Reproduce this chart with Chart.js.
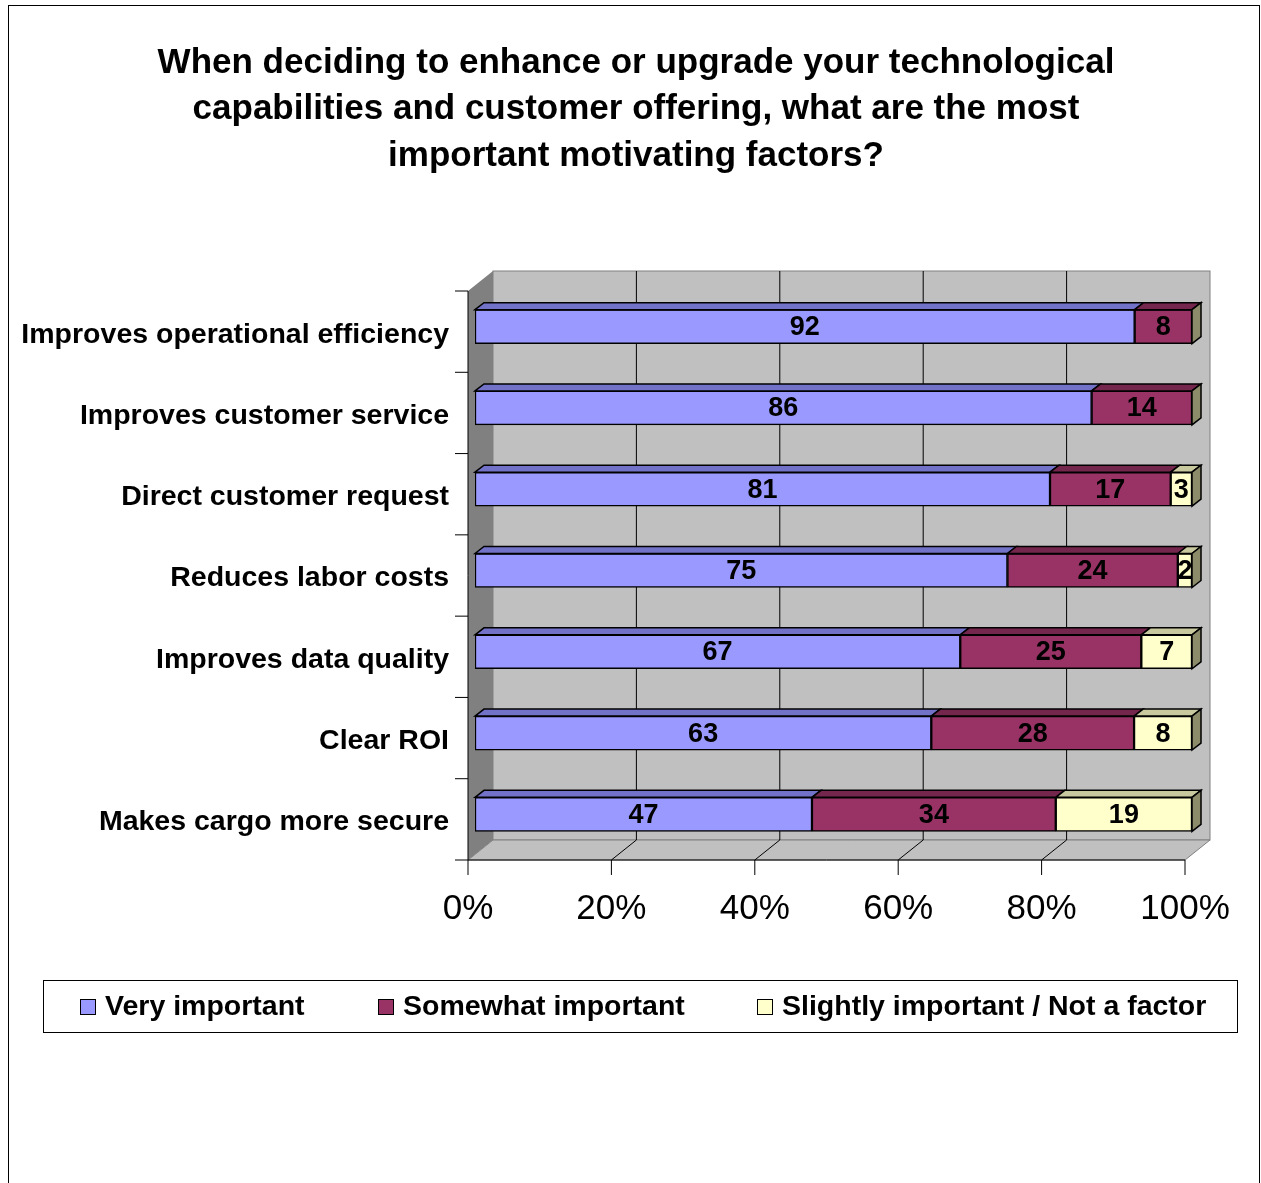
<!DOCTYPE html>
<html lang="en">
<head>
    <meta charset="UTF-8">
    <title>Motivating factors</title>
    <script src="https://cdn.jsdelivr.net/npm/chart.js"></script>
    <style>
        body {
            margin: 0;
            background: white;
            overflow: hidden;
        }
        .chart-box {
            position: relative;
            width: 1261px;
            height: 1183px;
        }
    </style>
</head>
<body>

<div class="chart-box">
    <canvas id="factorsChart"></canvas>
</div>

<script>
    // Values (percent of respondents)
    const categories = [
        'Improves operational efficiency',
        'Improves customer service',
        'Direct customer request',
        'Reduces labor costs',
        'Improves data quality',
        'Clear ROI',
        'Makes cargo more secure'
    ];
    const seriesNames = ['Very important', 'Somewhat important', 'Slightly important / Not a factor'];
    const veryImportant = [92, 86, 81, 75, 67, 63, 47];
    const somewhatImportant = [8, 14, 17, 24, 25, 28, 34];
    const slightlyImportant = [0, 0, 3, 2, 7, 8, 19];
    const xTicks = [0, 20, 40, 60, 80, 100];

    const titleLines = [
        'When deciding to enhance or upgrade your technological',
        'capabilities and customer offering, what are the most',
        'important motivating factors?'
    ];

    const FONT = "'Liberation Sans', Arial, sans-serif";
    const frontColors = ['#9999FF', '#993366', '#FFFFCC'];
    const topColors = ['#7272C8', '#74264D', '#C9C99F'];
    const sideColor = '#8C8C6A';

    // 3D geometry (pixels)
    const wallDepth = { dx: 25, dy: -20 };
    const barShift = { dx: -7, dy: 5 };   // front plane relative to bar fronts
    const barDepth = { dx: 9, dy: -7 };

    // 100% stacked: each row is scaled to its own total
    const rawSeries = [veryImportant, somewhatImportant, slightlyImportant];
    const rowTotals = categories.map((_, i) => rawSeries.reduce((s, arr) => s + arr[i], 0));
    const toPercent = arr => arr.map((v, i) => v / rowTotals[i] * 100);

    const datasets = rawSeries.map((arr, k) => ({
        label: seriesNames[k],
        data: toPercent(arr),
        backgroundColor: frontColors[k],
        borderColor: '#000000',
        borderWidth: 1.5,
        borderSkipped: false,
        barThickness: 34
    }));

    function line(ctx, pts) {
        ctx.beginPath();
        ctx.moveTo(pts[0][0], pts[0][1]);
        for (let i = 1; i < pts.length; i++) ctx.lineTo(pts[i][0], pts[i][1]);
    }

    const threeD = {
        id: 'threeD',
        beforeDraw(chart) {
            const ctx = chart.ctx;
            ctx.save();
            ctx.fillStyle = '#FFFFFF';
            ctx.fillRect(0, 0, chart.width, chart.height);
            ctx.strokeStyle = '#000000';
            ctx.lineWidth = 1;
            ctx.strokeRect(8.5, 5.5, 1251, 1300);
            ctx.restore();
        },
        beforeDatasetsDraw(chart) {
            const ctx = chart.ctx, xs = chart.scales.x, a = chart.chartArea;
            const L = xs.getPixelForValue(0) + barShift.dx;
            const R = xs.getPixelForValue(100) + barShift.dx;
            const T = a.top + barShift.dy, B = a.bottom + barShift.dy;
            const dx = wallDepth.dx, dy = wallDepth.dy;
            ctx.save();
            ctx.lineWidth = 1;

            // back wall
            ctx.fillStyle = '#C0C0C0';
            ctx.fillRect(L + dx, T + dy, R - L, B - T);
            ctx.strokeStyle = '#808080';
            ctx.strokeRect(L + dx, T + dy, R - L, B - T);

            // left wall
            line(ctx, [[L, T], [L + dx, T + dy], [L + dx, B + dy], [L, B]]);
            ctx.closePath();
            ctx.fillStyle = '#808080';
            ctx.fill();

            // floor
            line(ctx, [[L, B], [R, B], [R + dx, B + dy], [L + dx, B + dy]]);
            ctx.closePath();
            ctx.fillStyle = '#C0C0C0';
            ctx.fill();
            ctx.strokeStyle = '#808080';
            ctx.stroke();

            // gridlines on floor and back wall
            ctx.strokeStyle = '#000000';
            xTicks.slice(1, -1).forEach(v => {
                const px = xs.getPixelForValue(v) + barShift.dx;
                line(ctx, [[px, B], [px + dx, B + dy], [px + dx, T + dy]]);
                ctx.stroke();
            });

            // axis lines and tick marks
            line(ctx, [[L, T], [L, B], [R, B]]);
            ctx.stroke();
            xTicks.forEach(v => {
                const px = xs.getPixelForValue(v) + barShift.dx;
                line(ctx, [[px, B], [px, B + 15]]);
                ctx.stroke();
            });
            for (let i = 0; i <= categories.length; i++) {
                const py = T + i * (B - T) / categories.length;
                line(ctx, [[L - 13, py], [L, py]]);
                ctx.stroke();
            }
            ctx.restore();
        },
        afterDatasetsDraw(chart) {
            const ctx = chart.ctx;
            const ddx = barDepth.dx, ddy = barDepth.dy;
            ctx.save();
            ctx.lineWidth = 1.5;
            ctx.strokeStyle = '#000000';
            chart.data.datasets.forEach((ds, k) => {
                chart.getDatasetMeta(k).data.forEach((el, i) => {
                    const p = el.getProps(['x', 'y', 'base', 'height'], true);
                    const top = p.y - p.height / 2, bottom = p.y + p.height / 2;
                    if (p.x - p.base > 0.1) {
                        line(ctx, [[p.base, top], [p.base + ddx, top + ddy], [p.x + ddx, top + ddy], [p.x, top]]);
                        ctx.closePath();
                        ctx.fillStyle = topColors[k];
                        ctx.fill();
                        ctx.stroke();
                    }
                    if (k === chart.data.datasets.length - 1) {
                        line(ctx, [[p.x, top], [p.x + ddx, top + ddy], [p.x + ddx, bottom + ddy], [p.x, bottom]]);
                        ctx.closePath();
                        ctx.fillStyle = sideColor;
                        ctx.fill();
                        ctx.stroke();
                    }
                });
            });

            // value labels
            ctx.fillStyle = '#000000';
            ctx.font = 'bold 27px ' + FONT;
            ctx.textAlign = 'center';
            ctx.textBaseline = 'middle';
            chart.data.datasets.forEach((ds, k) => {
                chart.getDatasetMeta(k).data.forEach((el, i) => {
                    const v = rawSeries[k][i];
                    if (!v) return;
                    const p = el.getProps(['x', 'y', 'base'], true);
                    ctx.fillText(String(v), (p.x + p.base) / 2, p.y + 1);
                });
            });
            ctx.restore();
        },
        afterDraw(chart) {
            const ctx = chart.ctx;
            ctx.save();
            // title
            ctx.fillStyle = '#000000';
            ctx.font = 'bold 35px ' + FONT;
            ctx.textAlign = 'center';
            ctx.textBaseline = 'middle';
            titleLines.forEach((t, i) => ctx.fillText(t, 636, 63 + i * 46.5));

            // legend
            ctx.lineWidth = 1;
            ctx.strokeStyle = '#000000';
            ctx.strokeRect(43.5, 980.5, 1194, 52);
            const markerX = [80, 378, 757];
            ctx.font = 'bold 28.5px ' + FONT;
            ctx.textAlign = 'left';
            seriesNames.forEach((name, k) => {
                ctx.fillStyle = frontColors[k];
                ctx.fillRect(markerX[k] + 0.5, 999.5, 15, 15);
                ctx.strokeRect(markerX[k] + 0.5, 999.5, 15, 15);
                ctx.fillStyle = '#000000';
                ctx.fillText(name, markerX[k] + 25, 1007);
            });
            ctx.restore();
        }
    };

    new Chart(document.getElementById('factorsChart'), {
        type: 'bar',
        data: { labels: categories, datasets: datasets },
        options: {
            indexAxis: 'y',
            responsive: true,
            maintainAspectRatio: false,
            animation: false,
            layout: { padding: { top: 286, left: 0, right: 69, bottom: 228 } },
            plugins: {
                legend: { display: false },
                title: { display: false },
                tooltip: { enabled: false }
            },
            scales: {
                x: {
                    stacked: true,
                    min: 0,
                    max: 100,
                    afterBuildTicks: s => { s.ticks = xTicks.map(v => ({ value: v })); },
                    afterFit: s => { s.height = 100; s.paddingLeft = 0; s.paddingRight = 0; },
                    grid: { display: false, drawTicks: false },
                    border: { display: false },
                    ticks: {
                        callback: v => v + '%',
                        color: '#000000',
                        font: { family: FONT, size: 35 },
                        padding: 33,
                        labelOffset: -7,
                        maxRotation: 0
                    }
                },
                y: {
                    stacked: true,
                    afterFit: s => { s.width = 475; },
                    grid: { display: false, drawTicks: false },
                    border: { display: false },
                    ticks: {
                        color: '#000000',
                        font: { family: FONT, size: 28.5, weight: 'bold' },
                        padding: 26,
                        labelOffset: 8
                    }
                }
            }
        },
        plugins: [threeD]
    });
</script>

</body>
</html>
